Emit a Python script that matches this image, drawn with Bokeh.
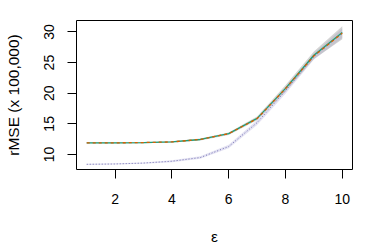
from bokeh.plotting import figure
from bokeh.models import Range1d, FixedTicker
from bokeh.embed import file_html
from bokeh.resources import INLINE

eps = [1, 2, 3, 4, 5, 6, 7, 8, 9, 10]
green = [11.9, 11.9, 11.95, 12.05, 12.45, 13.4, 15.9, 20.8, 26.2, 29.9]
green_lo = [11.8, 11.8, 11.85, 11.95, 12.3, 13.2, 15.6, 20.3, 25.6, 28.8]
green_hi = [12.0, 12.0, 12.05, 12.15, 12.6, 13.6, 16.2, 21.3, 26.8, 30.95]
orange = [11.9, 11.9, 11.95, 12.05, 12.45, 13.4, 15.85, 20.75, 26.1, 29.8]
purple = [8.4, 8.45, 8.6, 8.9, 9.5, 11.3, 15.2, 20.4, 26.0, 29.8]
purple_lo = [8.3, 8.35, 8.5, 8.75, 9.3, 11.0, 14.8, 19.9, 25.5, 29.0]
purple_hi = [8.5, 8.55, 8.7, 9.05, 9.7, 11.6, 15.6, 20.9, 26.5, 30.6]
x_ticks = [2, 4, 6, 8, 10]
y_ticks = [10, 15, 20, 25, 30]

p = figure(width=372, height=247, output_backend="svg", toolbar_location=None,
           x_range=Range1d(0.64, 10.36), y_range=Range1d(7.55, 31.87),
           min_border_left=76, min_border_right=20, min_border_top=20, min_border_bottom=75)
p.grid.visible = False
p.outline_line_color = "black"
p.outline_line_width = 1

p.varea(x=eps, y1=purple_lo, y2=purple_hi, fill_color="#c8c6e6", fill_alpha=0.5)
p.varea(x=eps, y1=green_lo, y2=green_hi, fill_color="#a0a0a0", fill_alpha=0.45)
p.line(eps, purple, line_color="#7570B3", line_width=1, line_dash="1 2")
p.line(eps, green, line_color="#1B9E77", line_width=1.3)
p.line(eps, orange, line_color="#D95F02", line_width=1.3, line_dash="3 3")

for ax in (p.xaxis[0], p.yaxis[0]):
    ax.axis_line_color = None
    ax.major_tick_line_color = "black"
    ax.major_tick_in = 0
    ax.major_tick_out = 9
    ax.minor_tick_line_color = None
    ax.major_label_text_font = "Liberation Sans"
    ax.major_label_text_font_size = "14px"
    ax.major_label_text_color = "black"
    ax.axis_label_text_font = "Liberation Sans"
    ax.axis_label_text_font_size = "15.5px"
    ax.axis_label_text_font_style = "normal"
    ax.axis_label_text_color = "black"

p.xaxis.ticker = FixedTicker(ticks=x_ticks)
p.yaxis.ticker = FixedTicker(ticks=y_ticks)
p.yaxis.major_label_orientation = "vertical"
p.xaxis.major_label_standoff = 15
p.yaxis.major_label_standoff = 13
p.xaxis.axis_label = "ε"
p.yaxis.axis_label = "rMSE (x 100,000)"
p.xaxis.axis_label_standoff = 21
p.yaxis.axis_label_standoff = 20

open("out.html", "w").write(file_html(p, INLINE))
